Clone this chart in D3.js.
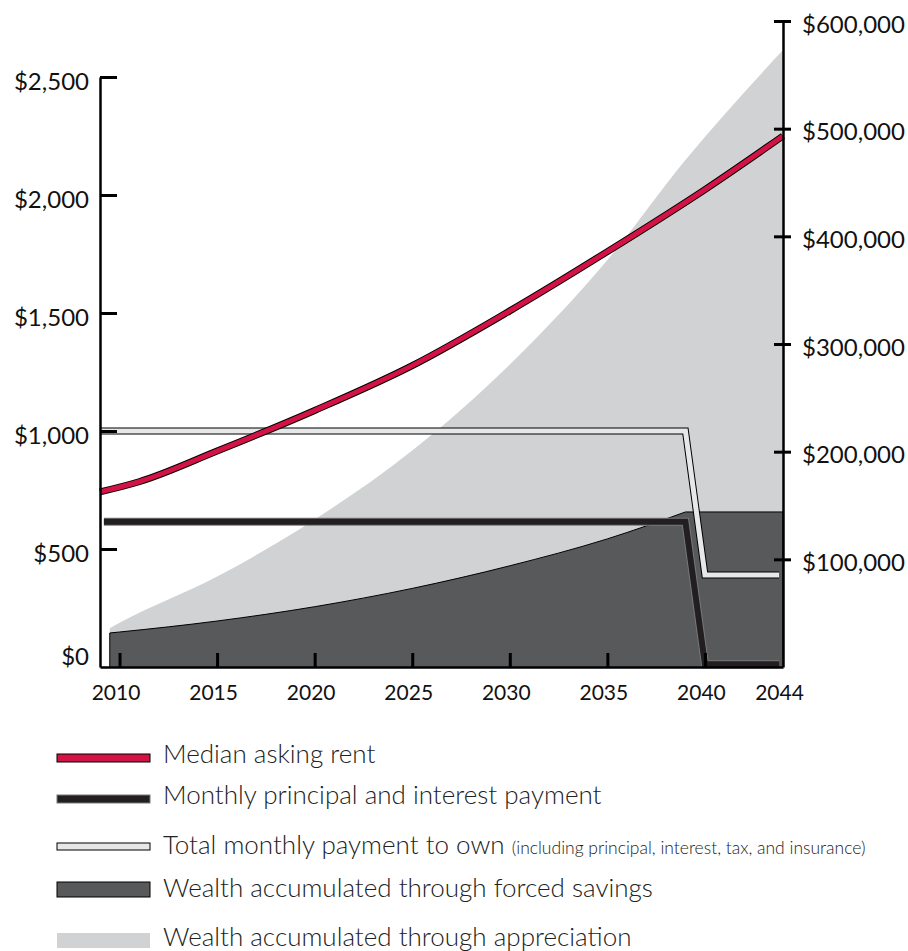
<!DOCTYPE html>
<html lang="en">
<head>
    <meta charset="UTF-8">
    <script src="https://cdn.jsdelivr.net/npm/d3@7"></script>
    <style>
        body { margin: 0; background: #fff; }
        text { font-family: Lato, "Open Sans", sans-serif; fill: #111; }
        .legend text { font-weight: 300; fill: #222; }
    </style>
</head>
<body>
<script>

    // Median asking rent, left axis ($/month)
    var rentYears = [2009, 2011, 2015, 2020, 2025, 2030, 2035, 2040, 2044];
    var rentValues = [742, 785, 915, 1087, 1277, 1509, 1760, 2023, 2250];

    // Total monthly payment to own, left axis
    var totalYears = [2009, 2039, 2040, 2043.8];
    var totalValues = [1000, 1000, 390, 390];

    // Monthly principal and interest payment, left axis
    var piYears = [2009.2, 2039, 2040, 2043.8];
    var piValues = [615, 615, 12, 12];

    // Wealth (right axis, $): forced savings and appreciation on top of it
    var wealthYears = [2009.5, 2010, 2015, 2020, 2025, 2030, 2035, 2039, 2044];
    var savingsValues = [31600, 32500, 42700, 56000, 73000, 94000, 119000, 144000, 144000];
    var appreciationValues = [4400, 8500, 41300, 81000, 128000, 187000, 259000, 327000, 429000];
    var loanEnd = 2039; // savings stop growing once the mortgage is paid off

    // Tick labels
    var leftTicks = [0, 500, 1000, 1500, 2000, 2500];
    var rightTicks = [100000, 200000, 300000, 400000, 500000, 600000];
    var yearTicks = [2010, 2015, 2020, 2025, 2030, 2035, 2040, 2044];

    var legendLabels = [
        "Median asking rent",
        "Monthly principal and interest payment",
        "Total monthly payment to own",
        "Wealth accumulated through forced savings",
        "Wealth accumulated through appreciation"
    ];
    var legendNote = "(including principal, interest, tax, and insurance)";

    var width = 908;
    var height = 951;
    var svg = d3.select("body").append("svg")
        .attr("width", width)
        .attr("height", height);

    // scales
    var x = d3.scaleLinear().domain([2009, 2044]).range([100, 783]);
    var yL = d3.scaleLinear().domain([0, 2500]).range([667, 77]);
    var yR = d3.scaleLinear().domain([0, 600000]).range([667, 21]);

    var red = "#d31245", dark = "#58595b", light = "#d1d2d3", pale = "#e6e7e8", ink = "#231f20";

    // stacked wealth areas
    var wealth = wealthYears.map(function (y, i) {
        return { year: y, savings: savingsValues[i], appreciation: appreciationValues[i] };
    });
    var stack = d3.stack().keys(["savings", "appreciation"])(wealth);

    // appreciation drawn from the baseline, forced savings on top of it
    var lightArea = d3.area()
        .x(function (d) { return x(d.data.year); })
        .y0(yR(0))
        .y1(function (d) { return yR(d[1]); })
        .curve(d3.curveMonotoneX);

    svg.append("path")
        .attr("d", lightArea(stack[1]))
        .style("fill", light);

    // forced savings: smooth while paying the loan, flat after
    var rise = stack[0].filter(function (d) { return d.data.year <= loanEnd; });
    var flat = stack[0].filter(function (d) { return d.data.year >= loanEnd; });

    function savingsArea(curve) {
        return d3.area()
            .x(function (d) { return x(d.data.year); })
            .y0(function (d) { return yR(d[0]); })
            .y1(function (d) { return yR(d[1]); })
            .curve(curve);
    }
    function savingsTop(curve) {
        return d3.line()
            .x(function (d) { return x(d.data.year); })
            .y(function (d) { return yR(d[1]); })
            .curve(curve);
    }

    svg.append("path")
        .attr("d", savingsArea(d3.curveMonotoneX)(rise) + savingsArea(d3.curveLinear)(flat))
        .style("fill", dark);

    var first = stack[0][0], last = stack[0][stack[0].length - 1];
    var edges = d3.line()([[x(first.data.year), yR(0)], [x(first.data.year), yR(first[1])]]) +
        d3.line()([[x(last.data.year), yR(last[1])], [x(last.data.year), yR(0)]]);

    svg.append("path")
        .attr("d", savingsTop(d3.curveMonotoneX)(rise) + savingsTop(d3.curveLinear)(flat) + edges)
        .style("fill", "none")
        .style("stroke", "#000")
        .style("stroke-width", 1);

    // outlined lines: a wide dark stroke under a narrower coloured one
    function drawLine(years, values, curve, outer, outerW, inner, innerW) {
        var pts = years.map(function (y, i) { return [x(y), yL(values[i])]; });
        var line = d3.line().curve(curve);
        [[outer, outerW], [inner, innerW]].forEach(function (s) {
            svg.append("path")
                .attr("d", line(pts))
                .style("fill", "none")
                .style("stroke", s[0])
                .style("stroke-width", s[1])
                .style("stroke-linejoin", "miter")
                .style("stroke-linecap", "butt");
        });
    }

    drawLine(totalYears, totalValues, d3.curveLinear, "#000", 7, pale, 5);
    drawLine(piYears, piValues, d3.curveLinear, "#77787a", 8, ink, 6);
    drawLine(rentYears, rentValues, d3.curveMonotoneX, "#000", 7, red, 5);

    // left axis
    var gL = svg.append("g")
        .attr("transform", "translate(100,0)")
        .call(d3.axisLeft(yL).tickValues(leftTicks).tickSize(-17).tickSizeOuter(0).tickPadding(11)
            .tickFormat(function (d) { return "$" + d3.format(",")(d); }));
    gL.selectAll("text").attr("dy", "0.5em").style("font-size", "24px");
    gL.selectAll(".tick").filter(function (d) { return d === 0; })
        .select("text").attr("transform", "translate(0,-15)");
    gL.selectAll(".tick").filter(function (d) { return d === 0; }).select("line").remove();

    // right axis
    var gR = svg.append("g")
        .attr("transform", "translate(783,0)")
        .call(d3.axisRight(yR).tickValues(rightTicks).tickSize(8).tickSizeOuter(0).tickPadding(11)
            .tickFormat(function (d) { return "$" + d3.format(",")(d); }));
    gR.selectAll(".tick line").attr("x1", -9);
    gR.selectAll("text").attr("dy", "0.47em").style("font-size", "24px");

    // bottom axis
    var gB = svg.append("g")
        .attr("transform", "translate(0,667)")
        .call(d3.axisBottom(x).tickValues(yearTicks).tickSize(-14).tickSizeOuter(0).tickPadding(18)
            .tickFormat(d3.format("d")));
    gB.selectAll("text").attr("dx", -4).style("font-size", "21px");
    gB.selectAll(".tick").filter(function (d) { return d === 2044; }).select("line").remove();

    [gL, gR, gB].forEach(function (g) {
        g.select(".domain").style("stroke", "#000").style("stroke-width", 2.5);
        g.selectAll(".tick line").style("stroke", "#000").style("stroke-width", 3);
        g.selectAll("text").style("fill", "#111");
    });

    // legend
    var legend = svg.append("g").attr("class", "legend");
    var swatches = [
        { y: 754, h: 8, fill: red, stroke: "#000" },
        { y: 795, h: 8, fill: ink, stroke: "#77787a" },
        { y: 843, h: 7, fill: pale, stroke: "#000" },
        { y: 882, h: 15, fill: dark, stroke: "#000" },
        { y: 933, h: 15, fill: light, stroke: "none" }
    ];
    var baselines = [763, 804, 854, 897, 946];

    swatches.forEach(function (s, i) {
        legend.append("rect")
            .attr("x", 57).attr("y", s.y)
            .attr("width", 93).attr("height", s.h)
            .style("fill", s.fill)
            .style("stroke", s.stroke)
            .style("stroke-width", 1);
        var t = legend.append("text")
            .attr("x", 163).attr("y", baselines[i])
            .style("font-size", "26px")
            .text(legendLabels[i]);
        if (i === 2) {
            t.append("tspan").text(" ");
            t.append("tspan").style("font-size", "17.5px").text(legendNote);
        }
    });

</script>
</body>
</html>
